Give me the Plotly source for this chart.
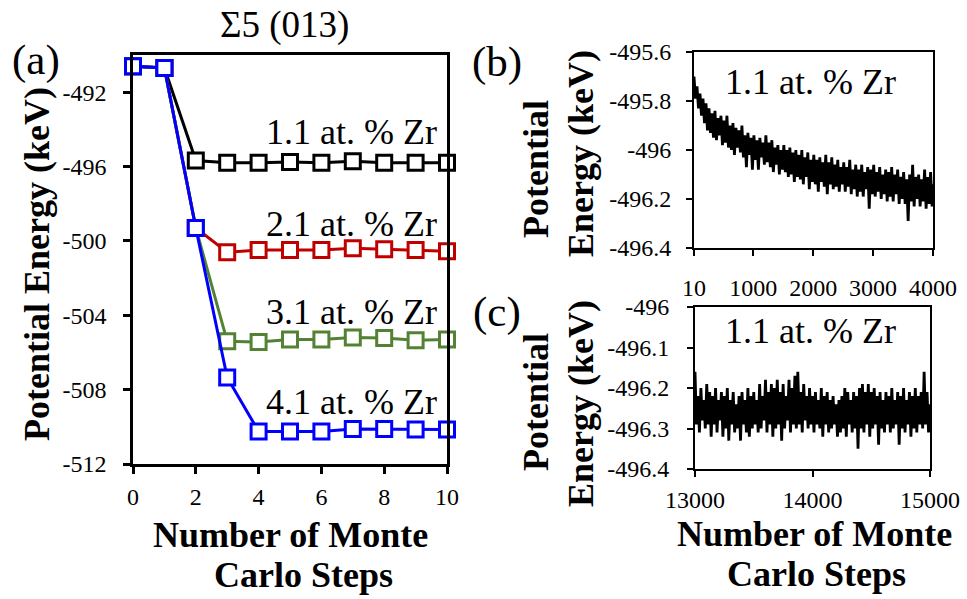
import plotly.graph_objects as go
import numpy as np

# ---------------- data ----------------
steps_a = [0, 1, 2, 3, 4, 5, 6, 7, 8, 9, 10]
e_11 = [-490.6, -490.7, -495.68, -495.8, -495.8, -495.75, -495.8, -495.72, -495.8, -495.8, -495.8]
e_21 = [-490.6, -490.7, -499.3, -500.61, -500.49, -500.49, -500.49, -500.4, -500.45, -500.49, -500.55]
e_31 = [-490.6, -490.7, -499.3, -505.4, -505.44, -505.3, -505.3, -505.2, -505.22, -505.35, -505.3]
e_41 = [-490.6, -490.7, -499.3, -507.35, -510.25, -510.25, -510.25, -510.12, -510.12, -510.15, -510.15]
labels_a = ["1.1 at. % Zr", "2.1 at. % Zr", "3.1 at. % Zr", "4.1 at. % Zr"]

steps_b = list(range(10, 4011, 25))
e_b = [
    -495.70, -495.79, -495.74, -495.83, -495.77, -495.86, -495.79, -495.89, -495.81, -495.92,
    -495.83, -495.93, -495.85, -495.95, -495.84, -495.96, -495.87, -495.94, -495.86, -495.98,
    -495.88, -495.97, -495.86, -495.99, -495.90, -496.00, -495.89, -496.02, -495.91, -495.99,
    -495.92, -496.01, -495.90, -496.03, -495.94, -496.07, -495.93, -496.02, -495.95, -496.08,
    -495.94, -496.04, -495.96, -496.08, -495.95, -496.03, -495.97, -496.06, -495.94, -496.05,
    -495.97, -496.07, -495.96, -496.09, -495.99, -496.06, -495.98, -496.10, -496.00, -496.08,
    -495.98, -496.09, -496.00, -496.11, -495.99, -496.10, -496.01, -496.13, -496.00, -496.11,
    -496.02, -496.12, -496.00, -496.14, -496.03, -496.11, -496.01, -496.16, -496.04, -496.13,
    -496.02, -496.14, -496.04, -496.17, -496.03, -496.13, -496.05, -496.15, -496.02, -496.18,
    -496.05, -496.14, -496.03, -496.16, -496.06, -496.15, -496.04, -496.17, -496.07, -496.14,
    -496.05, -496.17, -496.07, -496.15, -496.04, -496.18, -496.08, -496.16, -496.06, -496.19,
    -496.08, -496.17, -496.06, -496.19, -496.09, -496.16, -496.07, -496.24, -496.08, -496.18,
    -496.06, -496.19, -496.09, -496.17, -496.07, -496.20, -496.10, -496.18, -496.08, -496.21,
    -496.09, -496.19, -496.07, -496.21, -496.10, -496.18, -496.08, -496.22, -496.11, -496.20,
    -496.09, -496.22, -496.12, -496.29, -496.10, -496.21, -496.06, -496.23, -496.11, -496.20,
    -496.10, -496.23, -496.12, -496.21, -496.08, -496.24, -496.11, -496.22, -496.09, -496.23,
    -496.14,
]

steps_c = list(np.arange(13000, 15000.1, 12.5))
e_c = [
    -496.16, -496.29, -496.22, -496.31, -496.20, -496.28, -496.23, -496.30, -496.19, -496.29,
    -496.21, -496.32, -496.22, -496.29, -496.20, -496.31, -496.23, -496.28, -496.21, -496.32,
    -496.22, -496.30, -496.20, -496.33, -496.23, -496.29, -496.21, -496.31, -496.24, -496.30,
    -496.22, -496.33, -496.21, -496.29, -496.23, -496.31, -496.20, -496.32, -496.22, -496.30,
    -496.21, -496.29, -496.23, -496.31, -496.19, -496.30, -496.22, -496.28, -496.18, -496.31,
    -496.21, -496.29, -496.19, -496.32, -496.20, -496.30, -496.18, -496.29, -496.21, -496.33,
    -496.19, -496.30, -496.22, -496.28, -496.18, -496.31, -496.20, -496.29, -496.17, -496.30,
    -496.16, -496.29, -496.21, -496.31, -496.19, -496.28, -496.22, -496.30, -496.20, -496.29,
    -496.22, -496.31, -496.21, -496.29, -496.23, -496.30, -496.20, -496.32, -496.22, -496.29,
    -496.21, -496.31, -496.23, -496.30, -496.22, -496.29, -496.24, -496.32, -496.23, -496.31,
    -496.22, -496.30, -496.20, -496.32, -496.21, -496.29, -496.23, -496.31, -496.21, -496.30,
    -496.22, -496.35, -496.20, -496.30, -496.19, -496.31, -496.21, -496.29, -496.19, -496.32,
    -496.21, -496.30, -496.20, -496.29, -496.22, -496.34, -496.21, -496.30, -496.23, -496.31,
    -496.21, -496.29, -496.22, -496.31, -496.20, -496.30, -496.23, -496.29, -496.21, -496.34,
    -496.22, -496.30, -496.20, -496.31, -496.23, -496.29, -496.21, -496.32, -496.22, -496.30,
    -496.20, -496.31, -496.22, -496.29, -496.21, -496.30, -496.16, -496.29, -496.21, -496.31,
    -496.24,
]

ya_ticks = [-512, -508, -504, -500, -496, -492]
ya_text = ["-512", "-508", "-504", "-500", "-496", "-492"]
xa_ticks = [0, 2, 4, 6, 8, 10]
xa_text = ["0", "2", "4", "6", "8", "10"]
yb_ticks = [-496.4, -496.2, -496.0, -495.8, -495.6]
yb_text = ["-496.4", "-496.2", "-496", "-495.8", "-495.6"]
xb_ticks = [10, 1000, 2000, 3000, 4000]
xb_text = ["10", "1000", "2000", "3000", "4000"]
yc_ticks = [-496.4, -496.3, -496.2, -496.1, -496.0]
yc_text = ["-496.4", "-496.3", "-496.2", "-496.1", "-496"]
xc_ticks = [13000, 14000, 15000]
xc_text = ["13000", "14000", "15000"]

# ---------------- figure ----------------
W, H = 967, 599
FONT = "Times New Roman, Liberation Serif, serif"
colors = ["#000000", "#C00000", "#548235", "#0000FF"]

fig = go.Figure()
for ys, c in zip([e_11, e_21, e_31, e_41], colors):
    fig.add_trace(go.Scatter(
        x=steps_a, y=ys, mode="lines+markers", xaxis="x", yaxis="y",
        line=dict(color=c, width=3),
        marker=dict(symbol="square", size=15, color="white", line=dict(color=c, width=3)),
        cliponaxis=False, showlegend=False, hoverinfo="skip"))

fig.add_trace(go.Scatter(x=steps_b, y=e_b, mode="lines", xaxis="x2", yaxis="y2",
                         line=dict(color="black", width=2.8), showlegend=False))
fig.add_trace(go.Scatter(x=steps_c, y=e_c, mode="lines", xaxis="x3", yaxis="y3",
                         line=dict(color="black", width=2.8), showlegend=False))

def px(x):
    return x / W

def py(y):
    return 1 - y / H

common = dict(showgrid=False, zeroline=False, showline=True, mirror=True,
              linecolor="black", ticks="outside", tickcolor="black", automargin=False,
              tickfont=dict(family=FONT, size=24, color="black"))

fig.update_layout(
    template="none",
    width=W, height=H, margin=dict(l=0, r=0, t=0, b=0, pad=0, autoexpand=False),
    paper_bgcolor="white", plot_bgcolor="white", showlegend=False,
    xaxis=dict(domain=[px(133), px(447)], range=[0, 10], tickvals=xa_ticks, ticktext=xa_text,
               linewidth=2.5, tickwidth=2.5, ticklen=7, ticklabelstandoff=2,
               anchor="y", **common),
    yaxis=dict(domain=[py(464), py(55)], range=[-512, -490], tickvals=ya_ticks,
               ticktext=ya_text, linewidth=2.5, tickwidth=2.5, ticklen=7,
               ticklabelstandoff=12, anchor="x", **common),
    xaxis2=dict(domain=[px(694), px(933)], range=[10, 4000], tickvals=xb_ticks, ticktext=xb_text,
                linewidth=2, tickwidth=2, ticklen=6, ticklabelstandoff=11,
                anchor="y2", **common),
    yaxis2=dict(domain=[py(248), py(52)], range=[-496.4, -495.6], tickvals=yb_ticks,
                ticktext=yb_text, linewidth=2, tickwidth=2, ticklen=6,
                ticklabelstandoff=10, anchor="x2", **common),
    xaxis3=dict(domain=[px(695), px(930)], range=[13000, 15000], tickvals=xc_ticks, ticktext=xc_text,
                linewidth=2, tickwidth=2, ticklen=6, ticklabelstandoff=2,
                anchor="y3", **common),
    yaxis3=dict(domain=[py(469), py(307)], range=[-496.4, -496.0], tickvals=yc_ticks,
                ticktext=yc_text, linewidth=2, tickwidth=2, ticklen=6,
                ticklabelstandoff=13, anchor="x3", **common),
)

def ann(text, x, y, size, xanchor="center", yanchor="middle", angle=0, bold=False):
    fig.add_annotation(text=("<b>%s</b>" % text) if bold else text,
                       x=px(x), y=py(y), xref="paper", yref="paper",
                       xanchor=xanchor, yanchor=yanchor, textangle=angle,
                       showarrow=False, align="center", borderpad=0,
                       font=dict(family=FONT, size=size, color="black"))

# titles / panel labels
ann("Σ5 (013)", 284, 25, 37)
ann("(a)", 36, 60, 43)
ann("(b)", 497, 62, 43)
ann("(c)", 497, 312, 43)

# series labels panel (a)
for lab, yy in zip(labels_a, [132, 224, 312, 402]):
    ann(lab, 438, yy, 36, xanchor="right")
ann(labels_a[0], 810, 82, 36)
ann(labels_a[0], 810, 331, 36)

# axis titles
ann("Potential Energy (keV)", 37, 264, 36, angle=-90, bold=True)
ann("Number of Monte", 290, 535, 36, bold=True)
ann("Carlo Steps", 303, 575, 36, bold=True)
ann("Potential", 536, 169, 36, angle=-90, bold=True)
ann("Energy (keV)", 581, 154, 36, angle=-90, bold=True)
ann("Potential", 536, 402, 36, angle=-90, bold=True)
ann("Energy (keV)", 581, 404, 36, angle=-90, bold=True)
ann("Number of Monte", 814, 534, 36, bold=True)
ann("Carlo Steps", 816, 574, 36, bold=True)

fig.write_html("out.html")
